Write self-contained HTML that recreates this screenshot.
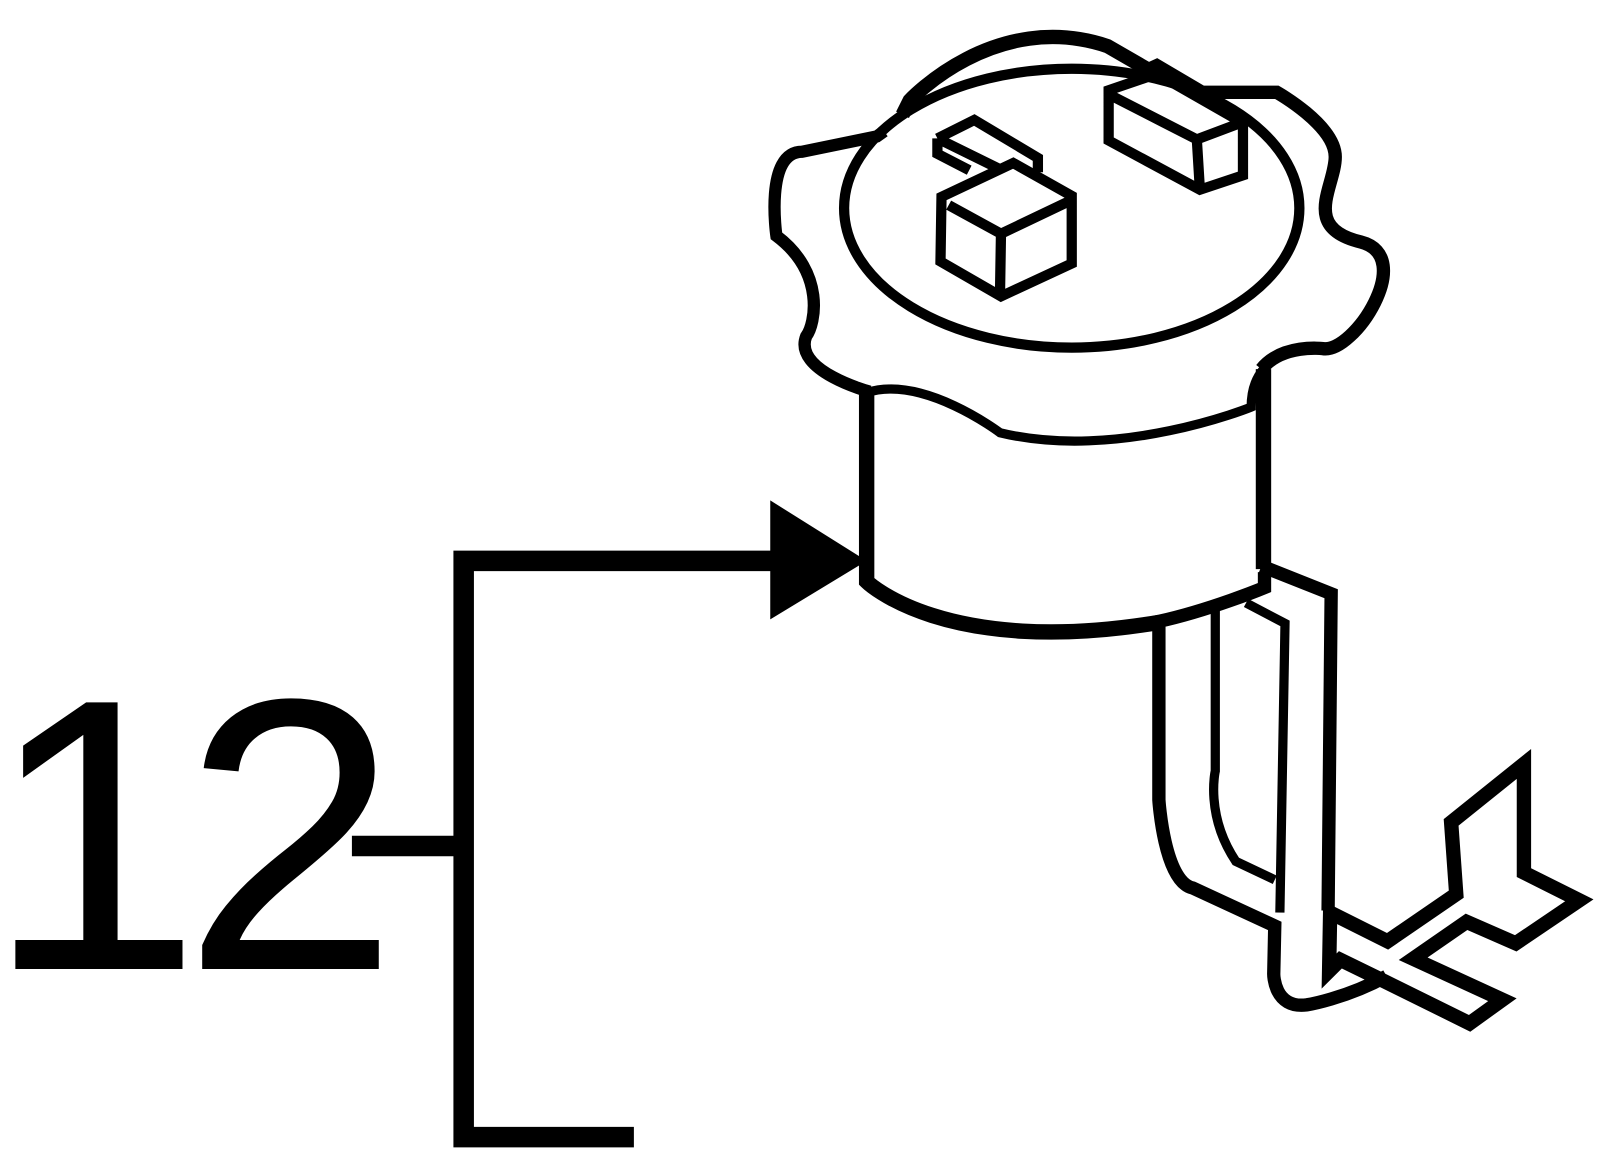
<!DOCTYPE html>
<html><head><meta charset="utf-8"><style>html,body{margin:0;padding:0;background:#fff}svg{display:block}</style></head>
<body>
<svg width="1600" height="1171" viewBox="0 0 1560 1142" xmlns="http://www.w3.org/2000/svg">
<rect width="1560" height="1142" fill="#fff"/>
<text x="-14" y="945" font-family="Liberation Sans, sans-serif" font-size="378" fill="#000">1</text>
<text x="178" y="945" font-family="Liberation Sans, sans-serif" font-size="378" fill="#000">2</text>
<g fill="none" stroke="#000" stroke-width="20">
<path d="M343,825 H452"/>
<path d="M760,547 H452 V1109 H618"/>
</g>
<polygon points="751,488 751,604 845,547" fill="#000"/>
<g fill="none" stroke="#000" stroke-linejoin="miter">
<ellipse cx="1045" cy="203" rx="222" ry="136" stroke-width="10"/>
<path d="M880,112 L887,98 C887,98 970,8 1080,45 L1118,67" stroke-width="14"/>
<path d="M1115,70 L1128,64 L1172,90 L1245,90 C1245,90 1302,122 1302,153 C1302,182 1268,222 1327,236 C1382,250 1320,345 1290,340 C1290,340 1250,335 1230,360" stroke-width="13"/>
<path d="M862,128 L855,133 L782,148 C745,148 757,230 757,230 C805,266 795,316 786,328 C773,362 848,382 848,382" stroke-width="12"/>
<path d="M845,380 V567 C845,567 920,642 1130,607" stroke-width="15"/>
<path d="M1232,360 V555" stroke-width="15"/>
<path d="M845,383 C900,365 975,422 975,422 C1090,450 1220,397 1220,397 C1220,380 1225,368 1232,360" stroke-width="9"/>
<path d="M1230,552 L1298,579 L1295,888" stroke-width="13"/>
<path d="M1233,558 V573 C1233,573 1180,595 1130,606 V780 C1130,780 1135,860 1163,866 L1243,903 L1242,950 C1242,950 1242,984 1274,980 C1274,980 1312,974 1352,952" stroke-width="13"/>
<path d="M1185,595 V752 C1185,752 1175,795 1205,840 L1243,858" stroke-width="9"/>
<path d="M1215,588 L1253,608 L1248,890" stroke-width="9"/>
<path d="M1297,890 L1353,918 L1420,872 L1415,802 L1486,745 L1486,851 L1540,878 L1478,920 L1430,899 L1378,935 L1465,975 L1433,998 L1350,957 L1307,936 L1296,947 Z" stroke-width="14"/>
<path d="M1081,88 V137 L1170,185 L1212,171 V120 L1128,72 Z M1081,92 L1167,136 L1212,119 M1167,136 L1170,185" stroke-width="10"/>
<path d="M914,135 L950,117 L1012,154 L1012,168 M914,135 V150 L945,166 M914,135 L975,165" stroke-width="10"/>
<path d="M918,192 L988,159 L1045,191 V257 L976,289 L917,255 Z M925,200 L976,228 L1045,195 M976,228 L975,289" stroke-width="10"/>
</g>
</svg>
</body></html>
